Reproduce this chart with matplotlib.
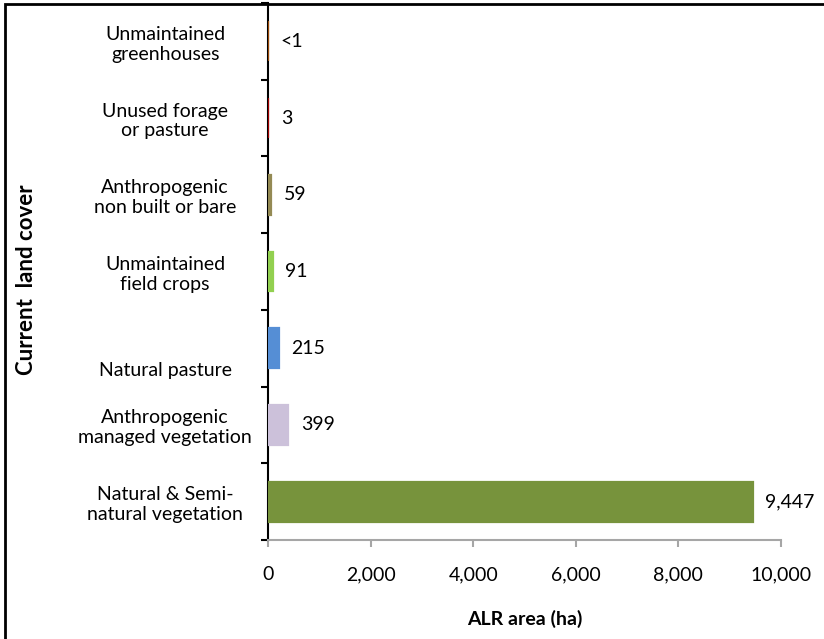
import numpy as np
import matplotlib.pyplot as plt
from matplotlib.patches import Rectangle
from matplotlib.ticker import FuncFormatter

plt.rcParams['font.family'] = ['Lato', 'DejaVu Sans']

# bottom to top, as drawn
categories = ['Natural & Semi-\nnatural vegetation',
              'Anthropogenic\nmanaged vegetation',
              '\n\nNatural pasture',
              'Unmaintained\nfield crops',
              'Anthropogenic\nnon built or bare',
              'Unused forage\nor pasture',
              'Unmaintained\ngreenhouses']
area_ha = [9447, 399, 215, 91, 59, 3, 0.5]
value_labels = ['9,447', '399', '215', '91', '59', '3', '<1']
colors = ['#77933C', '#CCC1DA', '#558ED5', '#92D050', '#948A54', '#A00000', '#984807']

fig = plt.figure(figsize=(8.24, 6.39), dpi=100)
ax = fig.add_axes([268/824, 1 - 540/639, (781 - 268)/824, (540 - 3)/639])

y = np.arange(len(categories))
bars = ax.barh(y, area_ha, height=0.52, color=colors, edgecolor=colors,
               linewidth=1.6, zorder=3)

for b, lab in zip(bars, value_labels):
    ax.annotate(lab, (b.get_width(), b.get_y() + b.get_height()/2),
                xytext=(9, 0), textcoords='offset points',
                ha='left', va='center', fontsize=14)

ax.set_xlim(0, 10000)
ax.set_ylim(-0.5, len(categories) - 0.5)
ax.set_xticks(np.arange(0, 10001, 2000))
ax.xaxis.set_major_formatter(FuncFormatter(lambda v, p: f'{int(v):,}'))
ax.set_yticks(y)
ax.set_yticklabels(categories, ha='center', fontsize=14)
ax.set_yticks(np.arange(-0.5, len(categories)), minor=True)

ax.tick_params(axis='y', which='major', length=0, pad=74)
ax.tick_params(axis='y', which='minor', length=5, width=1.5, color='black', direction='out')
ax.tick_params(axis='x', length=5, width=1.5, color='#A6A6A6', labelsize=14, pad=14)

for s in ['top', 'right']:
    ax.spines[s].set_visible(False)
ax.spines['left'].set_color('black')
ax.spines['left'].set_linewidth(1.5)
ax.spines['bottom'].set_color('#A6A6A6')
ax.spines['bottom'].set_linewidth(1.5)

ax.set_xlabel('ALR area (ha)', fontsize=14, fontweight='bold', labelpad=19)
fig.text(27/824, 1 - 280/639, 'Current  land cover', rotation=90,
         ha='center', va='center', fontsize=16, fontweight='bold')

# chart frame, cut off at the right and bottom
fig.add_artist(Rectangle((5/824, -0.05), 1.1, 1 - 4/639 + 0.05,
                         transform=fig.transFigure, fill=False,
                         edgecolor='black', linewidth=2))

fig.savefig('out.png', dpi=100)
